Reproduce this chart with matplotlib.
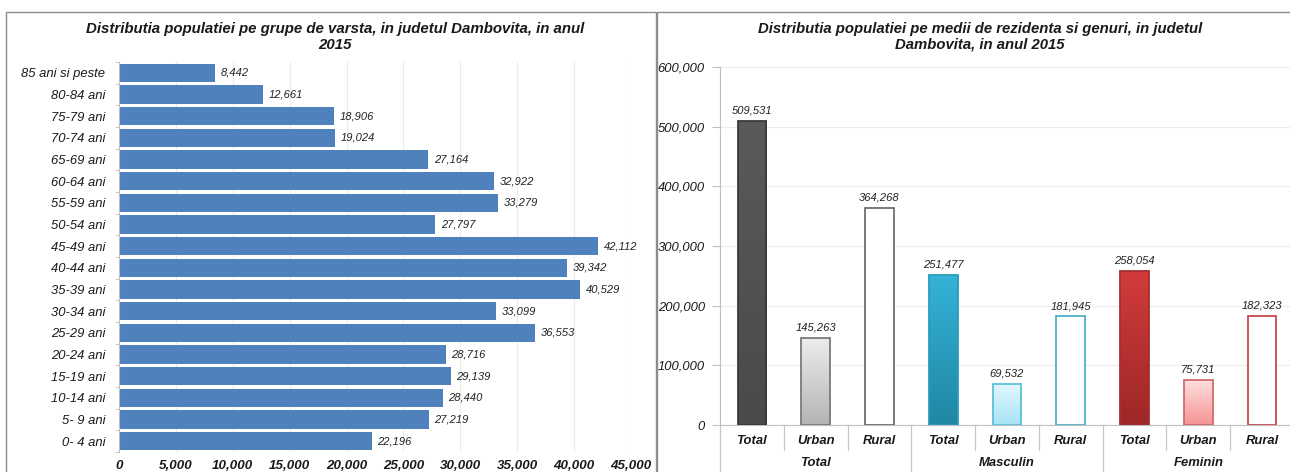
import matplotlib
matplotlib.use("Agg")
import matplotlib.pyplot as plt
import numpy as np
from matplotlib.colors import LinearSegmentedColormap
from matplotlib.patches import Rectangle
from matplotlib.transforms import blended_transform_factory
from matplotlib.ticker import FuncFormatter

plt.rcParams['font.family'] = ['Liberation Sans', 'DejaVu Sans']

# ---------------- data ----------------
age_groups = ['85 ani si peste', '80-84 ani', '75-79 ani', '70-74 ani', '65-69 ani',
              '60-64 ani', '55-59 ani', '50-54 ani', '45-49 ani', '40-44 ani',
              '35-39 ani', '30-34 ani', '25-29 ani', '20-24 ani', '15-19 ani',
              '10-14 ani', '5- 9 ani', '0- 4 ani']
age_values = [8442, 12661, 18906, 19024, 27164, 32922, 33279, 27797, 42112, 39342,
              40529, 33099, 36553, 28716, 29139, 28440, 27219, 22196]

groups = ['Total', 'Masculin', 'Feminin']
mediums = ['Total', 'Urban', 'Rural']
total_values = [509531, 145263, 364268]
masculin_values = [251477, 69532, 181945]
feminin_values = [258054, 75731, 182323]

left_title = 'Distributia populatiei pe grupe de varsta, in judetul Dambovita, in anul\n2015'
right_title = 'Distributia populatiei pe medii de rezidenta si genuri, in judetul\nDambovita, in anul 2015'

W, H = 1290, 472
fig = plt.figure(figsize=(W / 100, H / 100), dpi=100)

def fx(px):
    return px / W

def fy(py):
    return 1 - py / H

# panel borders
for x0, x1 in [(6, 656), (657, 1292)]:
    fig.add_artist(Rectangle((fx(x0), fy(480)), fx(x1) - fx(x0), fy(12) - fy(480),
                             transform=fig.transFigure, fill=False,
                             edgecolor='#8c8c8c', linewidth=1.0))

# ---------------- left chart ----------------
axL = fig.add_axes([fx(119), fy(452), fx(631) - fx(119), fy(62) - fy(452)])
ypos = np.arange(len(age_groups))
bars = axL.barh(ypos, age_values, height=0.84, color='#4f81bd', edgecolor='none', zorder=3)
axL.set_ylim(len(age_groups) - 0.5, -0.5)
axL.set_xlim(0, 45000)
axL.set_xticks(np.arange(0, 45001, 5000))
axL.xaxis.set_major_formatter(FuncFormatter(lambda v, p: f'{int(v):,}'))
axL.set_yticks(ypos)
axL.set_yticklabels(age_groups, fontsize=9.4, fontstyle='italic', color='#1a1a1a')
for lab in axL.get_xticklabels():
    lab.set_fontsize(9.6)
    lab.set_fontstyle('italic')
    lab.set_fontweight('bold')
    lab.set_color('#1a1a1a')
axL.tick_params(axis='x', length=0, pad=6)
axL.tick_params(axis='y', length=0, pad=10)
axL.grid(axis='x', color='#ebebeb', linewidth=0.8, zorder=0)
for s in ['top', 'right', 'bottom']:
    axL.spines[s].set_visible(False)
axL.spines['left'].set_color('#bfbfbf')
axL.spines['left'].set_zorder(4)
# minor tick marks between categories
axL.set_yticks(np.arange(-0.5, len(age_groups), 1.0), minor=True)
axL.tick_params(axis='y', which='minor', length=3, color='#bfbfbf')
for b, v in zip(bars, age_values):
    axL.text(v + 500, b.get_y() + b.get_height() / 2, f'{v:,}', va='center', ha='left',
             fontsize=8, fontstyle='italic', color='#222222')
fig.text(fx(335), fy(37), left_title, ha='center', va='center', fontsize=10.8,
         fontweight='bold', fontstyle='italic', color='#1a1a1a', linespacing=1.1)

# ---------------- right chart ----------------
axR = fig.add_axes([fx(720), fy(425), fx(1294) - fx(720), fy(67) - fy(425)])
all_values = total_values + masculin_values + feminin_values
xpos = np.arange(len(all_values))
styles = [
    # (gradient top, gradient bottom, edge, filled)
    ('#5a5a5a', '#4a4a4a', '#3a3a3a', True),
    ('#ececec', '#b4b4b4', '#7a7a7a', True),
    (None, None, '#6e6e6e', False),
    ('#35b3d9', '#1f87a3', '#2a9cbc', True),
    ('#e4f7fd', '#a5e3f6', '#5cbfdc', True),
    (None, None, '#4eb0cc', False),
    ('#d23b3b', '#9e2727', '#a33030', True),
    ('#ffe0e0', '#f59494', '#d46a6a', True),
    (None, None, '#c84a4a', False),
]
rbars = axR.bar(xpos, all_values, width=0.45, color='white', zorder=3)
for b, (ctop, cbot, edge, filled) in zip(rbars, styles):
    b.set_edgecolor(edge)
    b.set_linewidth(1.3)
    if filled:
        b.set_facecolor('none')
        x0, y0 = b.get_x(), b.get_y()
        cmap = LinearSegmentedColormap.from_list('g', [cbot, ctop])
        grad = np.linspace(0, 1, 256).reshape(-1, 1)
        im = axR.imshow(grad, cmap=cmap, aspect='auto', origin='lower',
                        extent=(x0, x0 + b.get_width(), y0, y0 + b.get_height()),
                        zorder=2.9, interpolation='bilinear')
        im.set_clip_path(b)
axR.set_xlim(-0.5, len(all_values) - 0.5)
axR.set_ylim(0, 600000)
for b, v in zip(rbars, all_values):
    axR.text(b.get_x() + b.get_width() / 2, v + 9000, f'{v:,}', ha='center', va='bottom',
             fontsize=8, fontstyle='italic', color='#222222')
axR.set_yticks(np.arange(0, 600001, 100000))
axR.yaxis.set_major_formatter(FuncFormatter(lambda v, p: f'{int(v):,}'))
for lab in axR.get_yticklabels():
    lab.set_fontsize(9.4)
    lab.set_fontstyle('italic')
    lab.set_color('#1a1a1a')
axR.tick_params(axis='y', length=6, color='#bfbfbf', pad=5)
axR.grid(axis='y', color='#ececec', linewidth=0.8, zorder=0)
axR.set_axisbelow(True)
axR.set_xticks(xpos)
axR.set_xticklabels(mediums * len(groups), fontsize=9.4, fontweight='bold',
                    fontstyle='italic', color='#1a1a1a')
axR.tick_params(axis='x', length=0, pad=7)
for s in ['top', 'right']:
    axR.spines[s].set_visible(False)
axR.spines['left'].set_color('#bfbfbf')
axR.spines['bottom'].set_color('#bfbfbf')
tr = blended_transform_factory(axR.transData, axR.transAxes)
for i, g in enumerate(groups):
    cx = i * len(mediums) + (len(mediums) - 1) / 2
    axR.text(cx, -0.107, g, transform=tr, ha='center', va='center', fontsize=9.4,
             fontweight='bold', fontstyle='italic', color='#1a1a1a', clip_on=False)
for k in range(len(all_values) + 1):
    xsep = k - 0.5
    if k % len(mediums) == 0:
        y_end = -0.2
    else:
        y_end = -0.07
    axR.plot([xsep, xsep], [0, y_end], transform=tr, color='#c8c8c8', linewidth=0.9,
             clip_on=False)
fig.text(fx(980), fy(37), right_title, ha='center', va='center', fontsize=10.7,
         fontweight='bold', fontstyle='italic', color='#1a1a1a', linespacing=1.1)

fig.savefig('out.png', dpi=100, facecolor='white')
